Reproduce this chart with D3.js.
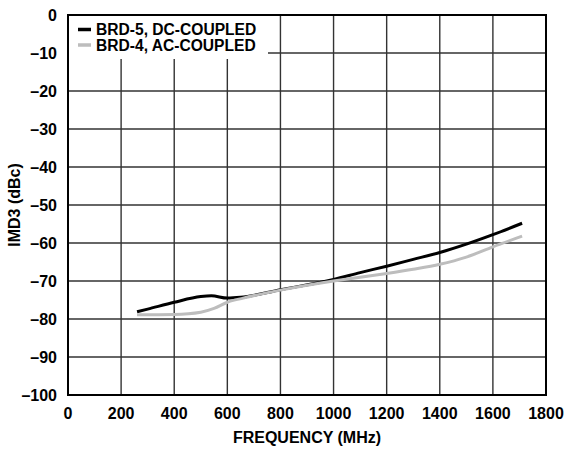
<!DOCTYPE html>
<html>
<head>
<meta charset="utf-8">
<script src="https://cdn.jsdelivr.net/npm/d3@7"></script>
<style>
  body { margin: 0; background: #fff; }
  text { font-family: "Liberation Sans", Arial, sans-serif; font-weight: bold; }
</style>
</head>
<body>
<script>
// chart data
var xTicks = [0, 200, 400, 600, 800, 1000, 1200, 1400, 1600, 1800];
var yTicks = [0, -10, -20, -30, -40, -50, -60, -70, -80, -90, -100];

var brd5Freq = [260, 300, 400, 500, 540, 600, 650, 800, 1000, 1100, 1200, 1300, 1400, 1500, 1600, 1710];
var brd5Imd3 = [-78.1, -77.4, -75.6, -74.1, -73.9, -74.5, -74.3, -72.3, -69.6, -67.8, -66.1, -64.3, -62.5, -60.3, -57.8, -54.8];

var brd4Freq = [260, 400, 500, 550, 600, 660, 800, 1000, 1100, 1200, 1300, 1400, 1500, 1600, 1710];
var brd4Imd3 = [-78.9, -78.8, -78.2, -77.2, -75.6, -74.5, -72.4, -70.0, -69.0, -68.0, -66.9, -65.6, -63.7, -61.0, -58.2];

var seriesNames = ["BRD-5, DC-COUPLED", "BRD-4, AC-COUPLED"];
var seriesColors = ["#000", "#bdbdbd"];

var width = 576,
    height = 451;

var margin = {left: 68, right: 30, top: 15, bottom: 56};

var svg = d3.select("body").append("svg")
    .attr("width", width)
    .attr("height", height)
    .style("display", "block");

var x = d3.scaleLinear()
    .domain([0, 1800])
    .range([margin.left, width - margin.right]);

var y = d3.scaleLinear()
    .domain([-100, 0])
    .range([height - margin.bottom, margin.top]);

var fmt = function(d) { return d < 0 ? "\u2013" + Math.abs(d) : d; };

// grid
svg.append("g")
    .selectAll("line")
    .data(xTicks.slice(1, -1))
    .enter().append("line")
    .attr("x1", function(d) { return x(d); })
    .attr("x2", function(d) { return x(d); })
    .attr("y1", y(0))
    .attr("y2", y(-100))
    .attr("stroke", "#333")
    .attr("stroke-width", 1.4);

svg.append("g")
    .selectAll("line")
    .data(yTicks.slice(1, -1))
    .enter().append("line")
    .attr("x1", x(0))
    .attr("x2", x(1800))
    .attr("y1", function(d) { return y(d); })
    .attr("y2", function(d) { return y(d); })
    .attr("stroke", "#333")
    .attr("stroke-width", 1.4);

// curves
var line = d3.line()
    .x(function(d) { return x(d[0]); })
    .y(function(d) { return y(d[1]); })
    .curve(d3.curveMonotoneX);

svg.append("path")
    .datum(d3.zip(brd5Freq, brd5Imd3))
    .attr("fill", "none")
    .attr("stroke", seriesColors[0])
    .attr("stroke-width", 3)
    .attr("d", line);

svg.append("path")
    .datum(d3.zip(brd4Freq, brd4Imd3))
    .attr("fill", "none")
    .attr("stroke", seriesColors[1])
    .attr("stroke-width", 3)
    .attr("d", line);

// legend
var legend = svg.append("g");
legend.append("rect")
    .attr("x", x(0))
    .attr("y", y(0))
    .attr("width", 200)
    .attr("height", 44)
    .attr("fill", "#fff");

legend.selectAll("line")
    .data(seriesNames)
    .enter().append("line")
    .attr("x1", 78)
    .attr("x2", 91)
    .attr("y1", function(d, i) { return 29.5 + i * 15.5; })
    .attr("y2", function(d, i) { return 29.5 + i * 15.5; })
    .attr("stroke", function(d, i) { return seriesColors[i]; })
    .attr("stroke-width", 3.5);

legend.selectAll("text")
    .data(seriesNames)
    .enter().append("text")
    .attr("x", 96)
    .attr("y", function(d, i) { return 35 + i * 15.5; })
    .attr("font-size", 15.6)
    .text(function(d) { return d; });

// frame
svg.append("rect")
    .attr("x", x(0))
    .attr("y", y(0))
    .attr("width", x(1800) - x(0))
    .attr("height", y(-100) - y(0))
    .attr("fill", "none")
    .attr("stroke", "#000")
    .attr("stroke-width", 2);

// tick labels
svg.append("g")
    .selectAll("text")
    .data(yTicks)
    .enter().append("text")
    .attr("x", 57)
    .attr("y", function(d) { return y(d); })
    .attr("dy", "0.35em")
    .attr("text-anchor", "end")
    .attr("font-size", 16)
    .text(fmt);

svg.append("g")
    .selectAll("text")
    .data(xTicks)
    .enter().append("text")
    .attr("x", function(d) { return x(d); })
    .attr("y", 419)
    .attr("text-anchor", "middle")
    .attr("font-size", 16)
    .text(fmt);

// axis titles
svg.append("text")
    .attr("x", (x(0) + x(1800)) / 2)
    .attr("y", 443)
    .attr("text-anchor", "middle")
    .attr("font-size", 16)
    .text("FREQUENCY (MHz)");

svg.append("text")
    .attr("transform", "translate(20," + (y(-50)) + ") rotate(-90)")
    .attr("text-anchor", "middle")
    .attr("font-size", 16)
    .text("IMD3 (dBc)");
</script>
</body>
</html>
